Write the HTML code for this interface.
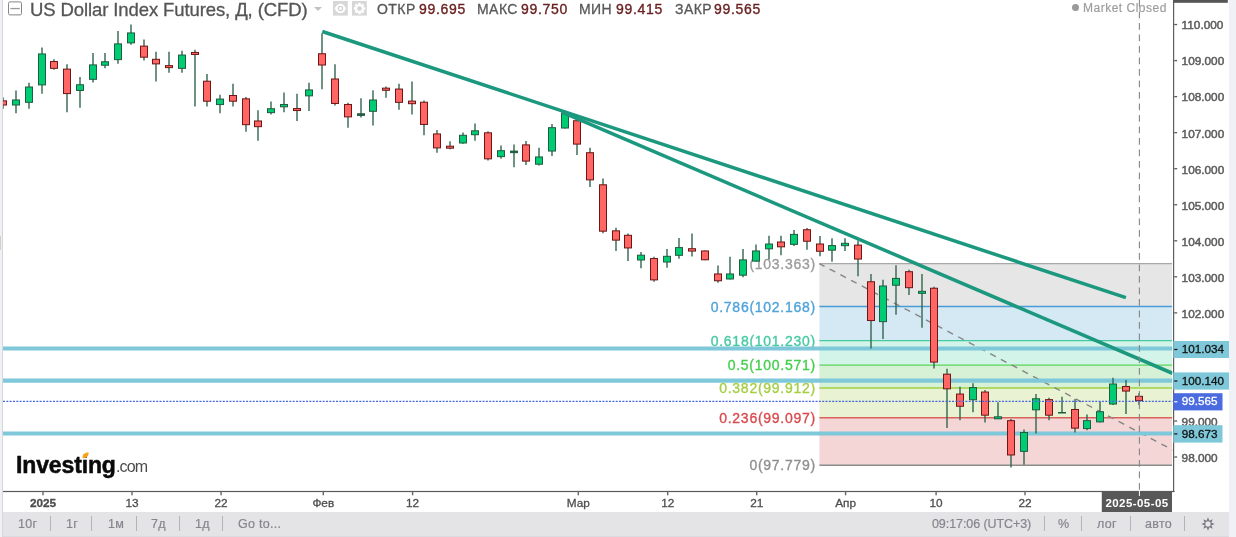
<!DOCTYPE html>
<html><head><meta charset="utf-8"><title>chart</title>
<style>
html,body{margin:0;padding:0;background:#fff;}
body{width:1236px;height:537px;position:relative;overflow:hidden;font-family:"Liberation Sans",sans-serif;}
.abs{position:absolute;white-space:nowrap;}
div.abs{will-change:transform;}
.lband{left:0;top:0;width:2.2px;height:537px;background:#f0f1f5;}
.lbord{left:2.2px;top:0;width:1px;height:537px;background:#d6d7db;}
.lhandle{left:0;top:236px;width:1.2px;height:14px;background:#cfcfd2;}
.rband{left:1229.4px;top:0;width:6.6px;height:537px;background:#eff1f6;}
.tbar{left:3px;top:512px;width:1226.4px;height:25px;background:#e4e4e6;}
.tb{top:517px;font-size:12.5px;color:#85858d;line-height:14px;letter-spacing:0.3px;-webkit-text-stroke:0.2px #85858d;}
.sep{top:516px;width:1px;height:15px;background:#b4b4b8;}
.title{left:29.8px;top:-1px;font-size:18.5px;line-height:21px;color:#555;letter-spacing:-0.1px;-webkit-text-stroke:0.3px #555;}
.hd{top:1px;font-size:14px;line-height:16px;}
.k{color:#585858;letter-spacing:0.45px;-webkit-text-stroke:0.3px #585858;} .v{color:#6b2020;letter-spacing:0.7px;-webkit-text-stroke:0.35px #6b2020;}
</style></head><body>
<svg width="1236" height="537" viewBox="0 0 1236 537" style="position:absolute;left:0;top:0;will-change:transform"><defs><clipPath id="pane"><rect x="3" y="0" width="1169.3" height="491"/></clipPath></defs><g clip-path="url(#pane)"><rect x="819.4" y="263.60" width="352.80" height="42.90" fill="#e6e6e6"/><rect x="819.4" y="306.50" width="352.80" height="34.10" fill="#d5e9f4"/><rect x="819.4" y="340.60" width="352.80" height="24.50" fill="#d3f4e8"/><rect x="819.4" y="365.10" width="352.80" height="22.90" fill="#d6f1d5"/><rect x="819.4" y="388.00" width="352.80" height="29.80" fill="#e9f3d4"/><rect x="819.4" y="417.80" width="352.80" height="47.40" fill="#f5d6d6"/><line x1="819.4" y1="263.60" x2="1172.2" y2="263.60" stroke="#a8a8a8" stroke-width="1.4"/><line x1="819.4" y1="306.50" x2="1172.2" y2="306.50" stroke="#4a9dd4" stroke-width="1.4"/><line x1="819.4" y1="340.60" x2="1172.2" y2="340.60" stroke="#45caa2" stroke-width="1.4"/><line x1="819.4" y1="365.10" x2="1172.2" y2="365.10" stroke="#5bd45b" stroke-width="1.4"/><line x1="819.4" y1="388.00" x2="1172.2" y2="388.00" stroke="#9fd040" stroke-width="1.4"/><line x1="819.4" y1="417.80" x2="1172.2" y2="417.80" stroke="#d9625a" stroke-width="1.4"/><line x1="819.4" y1="465.20" x2="1172.2" y2="465.20" stroke="#8c8c8c" stroke-width="1.4"/><line x1="819.4" y1="263.60" x2="1201.6" y2="465.20" stroke="#858585" stroke-width="1.4" stroke-dasharray="6.3 5.8" stroke-dashoffset="0.5"/><text x="815.8" y="268.60" text-anchor="end" font-family="Liberation Sans, sans-serif" font-size="14" letter-spacing="0.72" fill="#9c9c9c" stroke="#9c9c9c" stroke-width="0.35">(103.363)</text><text x="815.8" y="311.50" text-anchor="end" font-family="Liberation Sans, sans-serif" font-size="14" letter-spacing="0.72" fill="#4fa3da" stroke="#4fa3da" stroke-width="0.35">0.786(102.168)</text><text x="815.8" y="345.60" text-anchor="end" font-family="Liberation Sans, sans-serif" font-size="14" letter-spacing="0.72" fill="#45caa2" stroke="#45caa2" stroke-width="0.35">0.618(101.230)</text><text x="815.8" y="370.10" text-anchor="end" font-family="Liberation Sans, sans-serif" font-size="14" letter-spacing="0.72" fill="#44cf4e" stroke="#44cf4e" stroke-width="0.35">0.5(100.571)</text><text x="815.8" y="393.00" text-anchor="end" font-family="Liberation Sans, sans-serif" font-size="14" letter-spacing="0.72" fill="#a6cf45" stroke="#a6cf45" stroke-width="0.35">0.382(99.912)</text><text x="815.8" y="422.80" text-anchor="end" font-family="Liberation Sans, sans-serif" font-size="14" letter-spacing="0.72" fill="#d94a4e" stroke="#d94a4e" stroke-width="0.35">0.236(99.097)</text><text x="815.8" y="470.20" text-anchor="end" font-family="Liberation Sans, sans-serif" font-size="14" letter-spacing="0.72" fill="#8f8f8f" stroke="#8f8f8f" stroke-width="0.35">0(97.779)</text><line x1="3" y1="348.43" x2="1173" y2="348.43" stroke="#7fc8da" stroke-width="4.1"/><line x1="3" y1="380.65" x2="1173" y2="380.65" stroke="#7fc8da" stroke-width="4.1"/><line x1="3" y1="433.53" x2="1173" y2="433.53" stroke="#7fc8da" stroke-width="4.1"/><line x1="3.00" y1="97.23" x2="3.00" y2="108.85" stroke="#33654e" stroke-width="1.4"/><rect x="-0.50" y="100.86" width="7" height="4.14" fill="#ff6664" stroke="#6e1616" stroke-width="1"/><line x1="16.00" y1="90.53" x2="16.00" y2="113.32" stroke="#33654e" stroke-width="1.4"/><rect x="12.50" y="99.97" width="7" height="5.03" fill="#00cc74" stroke="#1f5c40" stroke-width="1"/><line x1="29.00" y1="82.71" x2="29.00" y2="108.85" stroke="#33654e" stroke-width="1.4"/><rect x="25.50" y="87.01" width="7" height="15.31" fill="#00cc74" stroke="#1f5c40" stroke-width="1"/><line x1="42.00" y1="47.40" x2="42.00" y2="93.66" stroke="#33654e" stroke-width="1.4"/><rect x="38.50" y="53.94" width="7" height="30.96" fill="#00cc74" stroke="#1f5c40" stroke-width="1"/><line x1="54.00" y1="59.25" x2="54.00" y2="69.75" stroke="#33654e" stroke-width="1.4"/><rect x="50.50" y="61.53" width="7" height="6.82" fill="#ff6664" stroke="#6e1616" stroke-width="1"/><line x1="67.00" y1="64.16" x2="67.00" y2="112.21" stroke="#33654e" stroke-width="1.4"/><rect x="63.50" y="69.13" width="7" height="24.47" fill="#ff6664" stroke="#6e1616" stroke-width="1"/><line x1="80.00" y1="77.12" x2="80.00" y2="107.74" stroke="#33654e" stroke-width="1.4"/><rect x="76.50" y="84.77" width="7" height="5.70" fill="#00cc74" stroke="#1f5c40" stroke-width="1"/><line x1="93.00" y1="52.99" x2="93.00" y2="82.49" stroke="#33654e" stroke-width="1.4"/><rect x="89.50" y="64.89" width="7" height="14.42" fill="#00cc74" stroke="#1f5c40" stroke-width="1"/><line x1="105.00" y1="52.99" x2="105.00" y2="68.18" stroke="#33654e" stroke-width="1.4"/><rect x="101.50" y="61.76" width="7" height="3.47" fill="#00cc74" stroke="#1f5c40" stroke-width="1"/><line x1="118.00" y1="31.09" x2="118.00" y2="63.72" stroke="#33654e" stroke-width="1.4"/><rect x="114.50" y="43.88" width="7" height="15.76" fill="#00cc74" stroke="#1f5c40" stroke-width="1"/><line x1="131.00" y1="24.39" x2="131.00" y2="44.72" stroke="#33654e" stroke-width="1.4"/><rect x="127.50" y="32.93" width="7" height="9.95" fill="#00cc74" stroke="#1f5c40" stroke-width="1"/><line x1="144.00" y1="39.58" x2="144.00" y2="60.59" stroke="#33654e" stroke-width="1.4"/><rect x="140.50" y="46.11" width="7" height="11.07" fill="#ff6664" stroke="#6e1616" stroke-width="1"/><line x1="156.00" y1="51.87" x2="156.00" y2="81.59" stroke="#33654e" stroke-width="1.4"/><rect x="152.50" y="59.30" width="7" height="4.59" fill="#ff6664" stroke="#6e1616" stroke-width="1"/><line x1="169.00" y1="51.87" x2="169.00" y2="72.65" stroke="#33654e" stroke-width="1.4"/><rect x="165.50" y="65.62" width="7" height="2.00" fill="#ff6664" stroke="#6e1616" stroke-width="1"/><line x1="182.00" y1="50.75" x2="182.00" y2="72.65" stroke="#33654e" stroke-width="1.4"/><rect x="178.50" y="55.05" width="7" height="13.30" fill="#00cc74" stroke="#1f5c40" stroke-width="1"/><line x1="195.00" y1="49.64" x2="195.00" y2="106.62" stroke="#33654e" stroke-width="1.4"/><rect x="191.50" y="52.44" width="7" height="2.00" fill="#ff6664" stroke="#6e1616" stroke-width="1"/><line x1="207.00" y1="73.99" x2="207.00" y2="106.62" stroke="#33654e" stroke-width="1.4"/><rect x="203.50" y="81.20" width="7" height="20.01" fill="#ff6664" stroke="#6e1616" stroke-width="1"/><line x1="220.00" y1="94.78" x2="220.00" y2="113.32" stroke="#33654e" stroke-width="1.4"/><rect x="216.50" y="99.08" width="7" height="5.48" fill="#00cc74" stroke="#1f5c40" stroke-width="1"/><line x1="233.00" y1="83.83" x2="233.00" y2="106.62" stroke="#33654e" stroke-width="1.4"/><rect x="229.50" y="95.50" width="7" height="5.70" fill="#ff6664" stroke="#6e1616" stroke-width="1"/><line x1="246.00" y1="97.01" x2="246.00" y2="131.87" stroke="#33654e" stroke-width="1.4"/><rect x="242.50" y="98.85" width="7" height="25.82" fill="#ff6664" stroke="#6e1616" stroke-width="1"/><line x1="258.00" y1="110.20" x2="258.00" y2="140.81" stroke="#33654e" stroke-width="1.4"/><rect x="254.50" y="120.97" width="7" height="5.70" fill="#ff6664" stroke="#6e1616" stroke-width="1"/><line x1="271.00" y1="101.51" x2="271.00" y2="114.47" stroke="#33654e" stroke-width="1.4"/><rect x="267.50" y="108.71" width="7" height="3.92" fill="#00cc74" stroke="#1f5c40" stroke-width="1"/><line x1="284.00" y1="92.57" x2="284.00" y2="112.23" stroke="#33654e" stroke-width="1.4"/><rect x="280.50" y="104.47" width="7" height="2.35" fill="#00cc74" stroke="#1f5c40" stroke-width="1"/><line x1="297.00" y1="93.69" x2="297.00" y2="120.95" stroke="#33654e" stroke-width="1.4"/><rect x="293.50" y="108.55" width="7" height="2.00" fill="#ff6664" stroke="#6e1616" stroke-width="1"/><line x1="309.00" y1="82.74" x2="309.00" y2="110.89" stroke="#33654e" stroke-width="1.4"/><rect x="305.50" y="89.94" width="7" height="5.93" fill="#00cc74" stroke="#1f5c40" stroke-width="1"/><line x1="322.00" y1="33.35" x2="322.00" y2="89.22" stroke="#33654e" stroke-width="1.4"/><rect x="318.50" y="53.74" width="7" height="11.29" fill="#ff6664" stroke="#6e1616" stroke-width="1"/><line x1="335.00" y1="64.19" x2="335.00" y2="105.53" stroke="#33654e" stroke-width="1.4"/><rect x="331.50" y="78.99" width="7" height="24.47" fill="#ff6664" stroke="#6e1616" stroke-width="1"/><line x1="348.00" y1="102.63" x2="348.00" y2="127.65" stroke="#33654e" stroke-width="1.4"/><rect x="344.50" y="104.47" width="7" height="12.41" fill="#ff6664" stroke="#6e1616" stroke-width="1"/><line x1="361.00" y1="98.16" x2="361.00" y2="117.60" stroke="#33654e" stroke-width="1.4"/><rect x="357.50" y="113.80" width="7" height="1.56" fill="#1f5c40" stroke="#1f5c40" stroke-width="1"/><line x1="373.00" y1="90.34" x2="373.00" y2="125.42" stroke="#33654e" stroke-width="1.4"/><rect x="369.50" y="100.00" width="7" height="11.29" fill="#00cc74" stroke="#1f5c40" stroke-width="1"/><line x1="386.00" y1="86.54" x2="386.00" y2="97.71" stroke="#33654e" stroke-width="1.4"/><rect x="382.50" y="88.15" width="7" height="2.13" fill="#ff6664" stroke="#6e1616" stroke-width="1"/><line x1="399.00" y1="83.85" x2="399.00" y2="109.78" stroke="#33654e" stroke-width="1.4"/><rect x="395.50" y="89.05" width="7" height="13.30" fill="#ff6664" stroke="#6e1616" stroke-width="1"/><line x1="412.00" y1="81.62" x2="412.00" y2="114.47" stroke="#33654e" stroke-width="1.4"/><rect x="408.50" y="101.11" width="7" height="2.58" fill="#ff6664" stroke="#6e1616" stroke-width="1"/><line x1="424.00" y1="100.61" x2="424.00" y2="135.25" stroke="#33654e" stroke-width="1.4"/><rect x="420.50" y="102.23" width="7" height="22.24" fill="#ff6664" stroke="#6e1616" stroke-width="1"/><line x1="437.00" y1="130.08" x2="437.00" y2="152.65" stroke="#33654e" stroke-width="1.4"/><rect x="433.50" y="133.94" width="7" height="13.97" fill="#ff6664" stroke="#6e1616" stroke-width="1"/><line x1="450.00" y1="141.26" x2="450.00" y2="149.30" stroke="#33654e" stroke-width="1.4"/><rect x="446.50" y="146.18" width="7" height="2.00" fill="#ff6664" stroke="#6e1616" stroke-width="1"/><line x1="463.00" y1="132.54" x2="463.00" y2="143.72" stroke="#33654e" stroke-width="1.4"/><rect x="459.50" y="135.28" width="7" height="7.72" fill="#00cc74" stroke="#1f5c40" stroke-width="1"/><line x1="475.00" y1="123.38" x2="475.00" y2="140.81" stroke="#33654e" stroke-width="1.4"/><rect x="471.50" y="130.81" width="7" height="3.92" fill="#00cc74" stroke="#1f5c40" stroke-width="1"/><line x1="488.00" y1="131.20" x2="488.00" y2="160.47" stroke="#33654e" stroke-width="1.4"/><rect x="484.50" y="132.82" width="7" height="26.04" fill="#ff6664" stroke="#6e1616" stroke-width="1"/><line x1="501.00" y1="145.50" x2="501.00" y2="158.69" stroke="#33654e" stroke-width="1.4"/><rect x="497.50" y="150.70" width="7" height="5.93" fill="#00cc74" stroke="#1f5c40" stroke-width="1"/><line x1="514.00" y1="144.39" x2="514.00" y2="167.18" stroke="#33654e" stroke-width="1.4"/><rect x="510.50" y="151.09" width="7" height="1.56" fill="#1f5c40" stroke="#1f5c40" stroke-width="1"/><line x1="526.00" y1="141.03" x2="526.00" y2="164.94" stroke="#33654e" stroke-width="1.4"/><rect x="522.50" y="144.89" width="7" height="16.21" fill="#ff6664" stroke="#6e1616" stroke-width="1"/><line x1="539.00" y1="147.74" x2="539.00" y2="165.39" stroke="#33654e" stroke-width="1.4"/><rect x="535.50" y="156.95" width="7" height="7.27" fill="#00cc74" stroke="#1f5c40" stroke-width="1"/><line x1="552.00" y1="124.05" x2="552.00" y2="156.01" stroke="#33654e" stroke-width="1.4"/><rect x="548.50" y="127.68" width="7" height="23.36" fill="#00cc74" stroke="#1f5c40" stroke-width="1"/><line x1="565.00" y1="110.64" x2="565.00" y2="128.52" stroke="#33654e" stroke-width="1.4"/><rect x="561.50" y="112.93" width="7" height="15.09" fill="#00cc74" stroke="#1f5c40" stroke-width="1"/><line x1="577.00" y1="120.03" x2="577.00" y2="154.89" stroke="#33654e" stroke-width="1.4"/><rect x="573.50" y="120.75" width="7" height="23.36" fill="#ff6664" stroke="#6e1616" stroke-width="1"/><line x1="590.00" y1="147.74" x2="590.00" y2="187.07" stroke="#33654e" stroke-width="1.4"/><rect x="586.50" y="152.71" width="7" height="27.16" fill="#ff6664" stroke="#6e1616" stroke-width="1"/><line x1="603.00" y1="178.49" x2="603.00" y2="233.24" stroke="#33654e" stroke-width="1.4"/><rect x="599.50" y="184.80" width="7" height="46.37" fill="#ff6664" stroke="#6e1616" stroke-width="1"/><line x1="616.00" y1="227.65" x2="616.00" y2="250.89" stroke="#33654e" stroke-width="1.4"/><rect x="612.50" y="230.84" width="7" height="9.28" fill="#ff6664" stroke="#6e1616" stroke-width="1"/><line x1="628.00" y1="233.46" x2="628.00" y2="260.95" stroke="#33654e" stroke-width="1.4"/><rect x="624.50" y="235.30" width="7" height="12.63" fill="#ff6664" stroke="#6e1616" stroke-width="1"/><line x1="641.00" y1="252.01" x2="641.00" y2="268.32" stroke="#33654e" stroke-width="1.4"/><rect x="637.50" y="255.19" width="7" height="4.81" fill="#00cc74" stroke="#1f5c40" stroke-width="1"/><line x1="654.00" y1="256.70" x2="654.00" y2="281.73" stroke="#33654e" stroke-width="1.4"/><rect x="650.50" y="258.54" width="7" height="21.35" fill="#ff6664" stroke="#6e1616" stroke-width="1"/><line x1="667.00" y1="248.88" x2="667.00" y2="267.65" stroke="#33654e" stroke-width="1.4"/><rect x="663.50" y="256.31" width="7" height="5.70" fill="#00cc74" stroke="#1f5c40" stroke-width="1"/><line x1="679.00" y1="237.93" x2="679.00" y2="258.72" stroke="#33654e" stroke-width="1.4"/><rect x="675.50" y="247.59" width="7" height="7.72" fill="#00cc74" stroke="#1f5c40" stroke-width="1"/><line x1="692.00" y1="233.46" x2="692.00" y2="256.48" stroke="#33654e" stroke-width="1.4"/><rect x="688.50" y="248.71" width="7" height="2.35" fill="#ff6664" stroke="#6e1616" stroke-width="1"/><line x1="705.00" y1="250.45" x2="705.00" y2="260.28" stroke="#33654e" stroke-width="1.4"/><rect x="701.50" y="250.95" width="7" height="8.83" fill="#ff6664" stroke="#6e1616" stroke-width="1"/><line x1="718.00" y1="265.42" x2="718.00" y2="282.85" stroke="#33654e" stroke-width="1.4"/><rect x="714.50" y="273.96" width="7" height="6.82" fill="#ff6664" stroke="#6e1616" stroke-width="1"/><line x1="730.00" y1="256.70" x2="730.00" y2="279.50" stroke="#33654e" stroke-width="1.4"/><rect x="726.50" y="273.96" width="7" height="5.03" fill="#00cc74" stroke="#1f5c40" stroke-width="1"/><line x1="743.00" y1="248.88" x2="743.00" y2="277.26" stroke="#33654e" stroke-width="1.4"/><rect x="739.50" y="259.89" width="7" height="15.31" fill="#00cc74" stroke="#1f5c40" stroke-width="1"/><line x1="756.00" y1="244.41" x2="756.00" y2="261.62" stroke="#33654e" stroke-width="1.4"/><rect x="752.50" y="250.95" width="7" height="10.17" fill="#00cc74" stroke="#1f5c40" stroke-width="1"/><line x1="769.00" y1="235.70" x2="769.00" y2="259.39" stroke="#33654e" stroke-width="1.4"/><rect x="765.50" y="244.02" width="7" height="4.81" fill="#00cc74" stroke="#1f5c40" stroke-width="1"/><line x1="781.00" y1="235.70" x2="781.00" y2="255.36" stroke="#33654e" stroke-width="1.4"/><rect x="777.50" y="242.01" width="7" height="4.81" fill="#ff6664" stroke="#6e1616" stroke-width="1"/><line x1="794.00" y1="230.11" x2="794.00" y2="245.98" stroke="#33654e" stroke-width="1.4"/><rect x="790.50" y="234.41" width="7" height="9.95" fill="#00cc74" stroke="#1f5c40" stroke-width="1"/><line x1="807.00" y1="228.10" x2="807.00" y2="249.78" stroke="#33654e" stroke-width="1.4"/><rect x="803.50" y="229.72" width="7" height="11.51" fill="#ff6664" stroke="#6e1616" stroke-width="1"/><line x1="820.00" y1="236.12" x2="820.00" y2="256.23" stroke="#33654e" stroke-width="1.4"/><rect x="816.50" y="243.99" width="7" height="7.27" fill="#ff6664" stroke="#6e1616" stroke-width="1"/><line x1="832.00" y1="238.35" x2="832.00" y2="261.82" stroke="#33654e" stroke-width="1.4"/><rect x="828.50" y="245.56" width="7" height="4.59" fill="#00cc74" stroke="#1f5c40" stroke-width="1"/><line x1="845.00" y1="238.35" x2="845.00" y2="251.09" stroke="#33654e" stroke-width="1.4"/><rect x="841.50" y="243.32" width="7" height="2.35" fill="#00cc74" stroke="#1f5c40" stroke-width="1"/><line x1="858.00" y1="240.59" x2="858.00" y2="276.34" stroke="#33654e" stroke-width="1.4"/><rect x="854.50" y="245.11" width="7" height="13.97" fill="#ff6664" stroke="#6e1616" stroke-width="1"/><line x1="871.00" y1="274.11" x2="871.00" y2="348.52" stroke="#33654e" stroke-width="1.4"/><rect x="867.50" y="281.76" width="7" height="38.78" fill="#ff6664" stroke="#6e1616" stroke-width="1"/><line x1="883.00" y1="279.69" x2="883.00" y2="338.91" stroke="#33654e" stroke-width="1.4"/><rect x="879.50" y="286.00" width="7" height="35.65" fill="#00cc74" stroke="#1f5c40" stroke-width="1"/><line x1="896.00" y1="265.17" x2="896.00" y2="314.78" stroke="#33654e" stroke-width="1.4"/><rect x="892.50" y="278.41" width="7" height="6.82" fill="#00cc74" stroke="#1f5c40" stroke-width="1"/><line x1="909.00" y1="269.64" x2="909.00" y2="294.89" stroke="#33654e" stroke-width="1.4"/><rect x="905.50" y="271.70" width="7" height="15.98" fill="#ff6664" stroke="#6e1616" stroke-width="1"/><line x1="922.00" y1="274.11" x2="922.00" y2="327.74" stroke="#33654e" stroke-width="1.4"/><rect x="918.50" y="291.32" width="7" height="2.00" fill="#00cc74" stroke="#1f5c40" stroke-width="1"/><line x1="934.00" y1="286.84" x2="934.00" y2="368.41" stroke="#33654e" stroke-width="1.4"/><rect x="930.50" y="288.24" width="7" height="73.86" fill="#ff6664" stroke="#6e1616" stroke-width="1"/><line x1="947.00" y1="368.76" x2="947.00" y2="427.98" stroke="#33654e" stroke-width="1.4"/><rect x="943.50" y="374.18" width="7" height="14.64" fill="#ff6664" stroke="#6e1616" stroke-width="1"/><line x1="960.00" y1="386.64" x2="960.00" y2="420.16" stroke="#33654e" stroke-width="1.4"/><rect x="956.50" y="394.06" width="7" height="12.18" fill="#ff6664" stroke="#6e1616" stroke-width="1"/><line x1="973.00" y1="383.28" x2="973.00" y2="412.34" stroke="#33654e" stroke-width="1.4"/><rect x="969.50" y="387.58" width="7" height="12.18" fill="#00cc74" stroke="#1f5c40" stroke-width="1"/><line x1="985.00" y1="389.99" x2="985.00" y2="422.39" stroke="#33654e" stroke-width="1.4"/><rect x="981.50" y="392.05" width="7" height="23.13" fill="#ff6664" stroke="#6e1616" stroke-width="1"/><line x1="998.00" y1="402.28" x2="998.00" y2="419.04" stroke="#33654e" stroke-width="1.4"/><rect x="994.50" y="416.81" width="7" height="2.00" fill="#00cc74" stroke="#1f5c40" stroke-width="1"/><line x1="1011.00" y1="419.04" x2="1011.00" y2="467.53" stroke="#33654e" stroke-width="1.4"/><rect x="1007.50" y="420.66" width="7" height="34.31" fill="#ff6664" stroke="#6e1616" stroke-width="1"/><line x1="1024.00" y1="429.54" x2="1024.00" y2="464.85" stroke="#33654e" stroke-width="1.4"/><rect x="1020.50" y="432.50" width="7" height="18.89" fill="#00cc74" stroke="#1f5c40" stroke-width="1"/><line x1="1036.00" y1="394.01" x2="1036.00" y2="433.56" stroke="#33654e" stroke-width="1.4"/><rect x="1032.50" y="398.76" width="7" height="11.07" fill="#00cc74" stroke="#1f5c40" stroke-width="1"/><line x1="1049.00" y1="397.81" x2="1049.00" y2="420.16" stroke="#33654e" stroke-width="1.4"/><rect x="1045.50" y="399.65" width="7" height="15.54" fill="#ff6664" stroke="#6e1616" stroke-width="1"/><line x1="1062.00" y1="396.69" x2="1062.00" y2="412.78" stroke="#33654e" stroke-width="1.4"/><line x1="1058.00" y1="412.78" x2="1066.00" y2="412.78" stroke="#1f5c40" stroke-width="1.4"/><line x1="1075.00" y1="398.93" x2="1075.00" y2="432.45" stroke="#33654e" stroke-width="1.4"/><rect x="1071.50" y="409.48" width="7" height="18.66" fill="#ff6664" stroke="#6e1616" stroke-width="1"/><line x1="1087.00" y1="414.57" x2="1087.00" y2="430.21" stroke="#33654e" stroke-width="1.4"/><rect x="1083.50" y="420.66" width="7" height="7.94" fill="#00cc74" stroke="#1f5c40" stroke-width="1"/><line x1="1100.00" y1="401.61" x2="1100.00" y2="422.39" stroke="#33654e" stroke-width="1.4"/><rect x="1096.50" y="411.72" width="7" height="10.17" fill="#00cc74" stroke="#1f5c40" stroke-width="1"/><line x1="1113.00" y1="377.70" x2="1113.00" y2="404.96" stroke="#33654e" stroke-width="1.4"/><rect x="1109.50" y="384.01" width="7" height="20.01" fill="#00cc74" stroke="#1f5c40" stroke-width="1"/><line x1="1126.00" y1="379.93" x2="1126.00" y2="413.90" stroke="#33654e" stroke-width="1.4"/><rect x="1122.50" y="386.47" width="7" height="4.59" fill="#ff6664" stroke="#6e1616" stroke-width="1"/><line x1="1139.00" y1="393.34" x2="1139.00" y2="404.96" stroke="#33654e" stroke-width="1.4"/><rect x="1135.50" y="396.30" width="7" height="4.36" fill="#ff6664" stroke="#6e1616" stroke-width="1"/><line x1="3" y1="401.4" x2="1173" y2="401.4" stroke="#4466e0" stroke-width="1.3" stroke-dasharray="2 1.33"/><line x1="322.3" y1="31.5" x2="1125.9" y2="297.7" stroke="#1b987e" stroke-width="3.5"/><line x1="563" y1="112.7" x2="1172.5" y2="373.3" stroke="#1b987e" stroke-width="3.5"/><line x1="1139.4" y1="0" x2="1139.4" y2="491" stroke="#858585" stroke-width="1.1" stroke-dasharray="6.7 4.8"/></g><rect x="1173" y="0" width="1.2" height="492" fill="#5e5e5e"/><rect x="3" y="490.9" width="1171.6" height="1.2" fill="#5a5a5a"/><rect x="1173" y="0" width="54.8" height="2.8" fill="#555"/><rect x="1174.2" y="456.38" width="3.0" height="1.3" fill="#5e5e5e"/><text x="1181.6" y="461.88" font-family="Liberation Sans, sans-serif" font-size="11.8" fill="#5c5c5c" stroke="#5c5c5c" stroke-width="0.5">98.000</text><rect x="1174.2" y="420.34" width="3.0" height="1.3" fill="#5e5e5e"/><text x="1181.6" y="425.84" font-family="Liberation Sans, sans-serif" font-size="11.8" fill="#5c5c5c" stroke="#5c5c5c" stroke-width="0.5">99.000</text><rect x="1174.2" y="312.22" width="3.0" height="1.3" fill="#5e5e5e"/><text x="1181.6" y="317.72" font-family="Liberation Sans, sans-serif" font-size="11.8" fill="#5c5c5c" stroke="#5c5c5c" stroke-width="0.5">102.000</text><rect x="1174.2" y="276.18" width="3.0" height="1.3" fill="#5e5e5e"/><text x="1181.6" y="281.68" font-family="Liberation Sans, sans-serif" font-size="11.8" fill="#5c5c5c" stroke="#5c5c5c" stroke-width="0.5">103.000</text><rect x="1174.2" y="240.14" width="3.0" height="1.3" fill="#5e5e5e"/><text x="1181.6" y="245.64" font-family="Liberation Sans, sans-serif" font-size="11.8" fill="#5c5c5c" stroke="#5c5c5c" stroke-width="0.5">104.000</text><rect x="1174.2" y="204.10" width="3.0" height="1.3" fill="#5e5e5e"/><text x="1181.6" y="209.60" font-family="Liberation Sans, sans-serif" font-size="11.8" fill="#5c5c5c" stroke="#5c5c5c" stroke-width="0.5">105.000</text><rect x="1174.2" y="168.06" width="3.0" height="1.3" fill="#5e5e5e"/><text x="1181.6" y="173.56" font-family="Liberation Sans, sans-serif" font-size="11.8" fill="#5c5c5c" stroke="#5c5c5c" stroke-width="0.5">106.000</text><rect x="1174.2" y="132.02" width="3.0" height="1.3" fill="#5e5e5e"/><text x="1181.6" y="137.52" font-family="Liberation Sans, sans-serif" font-size="11.8" fill="#5c5c5c" stroke="#5c5c5c" stroke-width="0.5">107.000</text><rect x="1174.2" y="95.98" width="3.0" height="1.3" fill="#5e5e5e"/><text x="1181.6" y="101.48" font-family="Liberation Sans, sans-serif" font-size="11.8" fill="#5c5c5c" stroke="#5c5c5c" stroke-width="0.5">108.000</text><rect x="1174.2" y="59.94" width="3.0" height="1.3" fill="#5e5e5e"/><text x="1181.6" y="65.44" font-family="Liberation Sans, sans-serif" font-size="11.8" fill="#5c5c5c" stroke="#5c5c5c" stroke-width="0.5">109.000</text><rect x="1174.2" y="23.90" width="3.0" height="1.3" fill="#5e5e5e"/><text x="1181.6" y="29.40" font-family="Liberation Sans, sans-serif" font-size="11.8" fill="#5c5c5c" stroke="#5c5c5c" stroke-width="0.5">110.000</text><rect x="1173.3" y="341" width="55.7" height="17" fill="#7ec8d9"/><rect x="1174.2" y="348.90" width="3.2" height="1.2" fill="#111"/><text x="1181.8" y="353.10" font-family="Liberation Sans, sans-serif" font-size="11.7" fill="#111" stroke="#111" stroke-width="0.3">101.034</text><rect x="1173.3" y="372.4" width="55.7" height="17.200000000000045" fill="#7ec8d9"/><rect x="1174.2" y="380.40" width="3.2" height="1.2" fill="#111"/><text x="1181.8" y="384.60" font-family="Liberation Sans, sans-serif" font-size="11.7" fill="#111" stroke="#111" stroke-width="0.3">100.140</text><rect x="1173.3" y="425.2" width="49.2" height="17.400000000000034" fill="#7ec8d9"/><rect x="1174.2" y="433.30" width="3.2" height="1.2" fill="#111"/><text x="1181.8" y="437.50" font-family="Liberation Sans, sans-serif" font-size="11.7" fill="#111" stroke="#111" stroke-width="0.3">98.673</text><rect x="1173.3" y="393.2" width="49.2" height="17.19999999999999" fill="#4a6be0"/><rect x="1174.2" y="401.20" width="3.2" height="1.2" fill="#fff"/><text x="1181.8" y="405.40" font-family="Liberation Sans, sans-serif" font-size="11.7" fill="#fff" stroke="#fff" stroke-width="0.3">99.565</text><rect x="42.3" y="491.5" width="1.4" height="3.8" fill="#666"/><text x="43.0" y="507.3" text-anchor="middle" font-family="Liberation Sans, sans-serif" font-size="11.8" font-weight="bold" fill="#4d4d4d" stroke="#4d4d4d" stroke-width="0.3">2025</text><rect x="131.3" y="491.5" width="1.4" height="3.8" fill="#666"/><text x="132.0" y="507.3" text-anchor="middle" font-family="Liberation Sans, sans-serif" font-size="11.8" font-weight="normal" fill="#4d4d4d" stroke="#4d4d4d" stroke-width="0.3">13</text><rect x="220.4" y="491.5" width="1.4" height="3.8" fill="#666"/><text x="221.1" y="507.3" text-anchor="middle" font-family="Liberation Sans, sans-serif" font-size="11.8" font-weight="normal" fill="#4d4d4d" stroke="#4d4d4d" stroke-width="0.3">22</text><rect x="322.6" y="491.5" width="1.4" height="3.8" fill="#666"/><text x="323.3" y="507.3" text-anchor="middle" font-family="Liberation Sans, sans-serif" font-size="11.8" font-weight="normal" fill="#4d4d4d" stroke="#4d4d4d" stroke-width="0.3">Фев</text><rect x="411.9" y="491.5" width="1.4" height="3.8" fill="#666"/><text x="412.6" y="507.3" text-anchor="middle" font-family="Liberation Sans, sans-serif" font-size="11.8" font-weight="normal" fill="#4d4d4d" stroke="#4d4d4d" stroke-width="0.3">12</text><rect x="577.6" y="491.5" width="1.4" height="3.8" fill="#666"/><text x="578.3" y="507.3" text-anchor="middle" font-family="Liberation Sans, sans-serif" font-size="11.8" font-weight="normal" fill="#4d4d4d" stroke="#4d4d4d" stroke-width="0.3">Мар</text><rect x="667.0" y="491.5" width="1.4" height="3.8" fill="#666"/><text x="667.7" y="507.3" text-anchor="middle" font-family="Liberation Sans, sans-serif" font-size="11.8" font-weight="normal" fill="#4d4d4d" stroke="#4d4d4d" stroke-width="0.3">12</text><rect x="756.0" y="491.5" width="1.4" height="3.8" fill="#666"/><text x="756.7" y="507.3" text-anchor="middle" font-family="Liberation Sans, sans-serif" font-size="11.8" font-weight="normal" fill="#4d4d4d" stroke="#4d4d4d" stroke-width="0.3">21</text><rect x="844.9" y="491.5" width="1.4" height="3.8" fill="#666"/><text x="845.6" y="507.3" text-anchor="middle" font-family="Liberation Sans, sans-serif" font-size="11.8" font-weight="normal" fill="#4d4d4d" stroke="#4d4d4d" stroke-width="0.3">Апр</text><rect x="935.4" y="491.5" width="1.4" height="3.8" fill="#666"/><text x="936.1" y="507.3" text-anchor="middle" font-family="Liberation Sans, sans-serif" font-size="11.8" font-weight="normal" fill="#4d4d4d" stroke="#4d4d4d" stroke-width="0.3">10</text><rect x="1024.3" y="491.5" width="1.4" height="3.8" fill="#666"/><text x="1025.0" y="507.3" text-anchor="middle" font-family="Liberation Sans, sans-serif" font-size="11.8" font-weight="normal" fill="#4d4d4d" stroke="#4d4d4d" stroke-width="0.3">22</text><rect x="1101.8" y="491.8" width="70.2" height="20.2" fill="#585858"/><line x1="1139.4" y1="491" x2="1139.4" y2="496" stroke="#fff" stroke-width="1"/><text x="1137" y="507" text-anchor="middle" font-family="Liberation Sans, sans-serif" font-size="11.5" letter-spacing="0.42" font-weight="bold" fill="#fff">2025-05-05</text></svg>
<div class="abs lband"></div><div class="abs lbord"></div><div class="abs lhandle"></div>
<div class="abs rband"></div>
<div class="abs tbar"></div>
<!-- header -->
<svg class="abs" style="left:8px;top:0.5px" width="15" height="15" viewBox="0 0 15 15"><rect x="0.5" y="0.9" width="13" height="13" rx="1.5" fill="#fff" stroke="#858585" stroke-width="1"/><rect x="2.4" y="6.9" width="9.4" height="1.3" fill="#999"/></svg>
<div class="abs title" id="title">US Dollar Index Futures, Д, (CFD)</div>
<svg class="abs" style="left:314px;top:7px" width="8" height="4" viewBox="0 0 8 4"><path d="M0 0H8L4 4Z" fill="#c2c2c2"/></svg>
<svg class="abs" style="left:333.2px;top:1.2px" width="15" height="15" viewBox="0 0 15 15"><rect width="14.8" height="14.6" fill="#d7d7d7"/><path d="M1.7 7.5C3.5 3.6 5.5 2.7 7.4 2.7C9.3 2.7 11.3 3.6 13.1 7.5C11.3 11.4 9.3 12.3 7.4 12.3C5.5 12.3 3.5 11.4 1.7 7.5Z" fill="#fff"/><circle cx="7.4" cy="7.5" r="2.1" fill="#fff" stroke="#d2d2d2" stroke-width="1.3"/></svg>
<svg class="abs" style="left:352.1px;top:1.2px" width="15" height="15" viewBox="0 0 15 15"><rect width="14.8" height="14.6" fill="#d7d7d7"/><g transform="translate(7.5 7.5)" fill="#fff"><circle r="4.2"/><rect x="-1.3" y="-5.7" width="2.6" height="11.4" transform="rotate(0)"/><rect x="-1.3" y="-5.7" width="2.6" height="11.4" transform="rotate(45)"/><rect x="-1.3" y="-5.7" width="2.6" height="11.4" transform="rotate(90)"/><rect x="-1.3" y="-5.7" width="2.6" height="11.4" transform="rotate(135)"/></g><circle cx="7.5" cy="7.5" r="2.3" fill="#d3d3d3"/></svg>
<div class="abs hd k" id="k1" style="left:376.5px">ОТКР</div><div class="abs hd v" id="v1" style="left:418.7px">99.695</div>
<div class="abs hd k" id="k2" style="left:477px">МАКС</div><div class="abs hd v" id="v2" style="left:520.8px">99.750</div>
<div class="abs hd k" id="k3" style="left:579px">МИН</div><div class="abs hd v" id="v3" style="left:615.6px">99.415</div>
<div class="abs hd k" id="k4" style="left:674.5px">ЗАКР</div><div class="abs hd v" id="v4" style="left:714px">99.565</div>
<div class="abs" style="left:1072px;top:4.1px;width:7px;height:7px;border-radius:50%;background:#9a9a9a"></div>
<div class="abs" id="mc" style="left:1083.2px;top:0.5px;font-size:12px;line-height:14px;color:#9d9d9d;letter-spacing:0.5px;-webkit-text-stroke:0.2px #9d9d9d">Market Closed</div>
<!-- logo -->
<div class="abs" id="logo" style="left:16.2px;top:451.6px;font-size:23px;line-height:26px;font-weight:bold;color:#0a0a0a;letter-spacing:-0.13px;-webkit-text-stroke:0.5px #0a0a0a">Investing</div>
<div class="abs" id="com" style="left:116.2px;top:457.2px;font-size:16px;line-height:20px;color:#4a4a4a;letter-spacing:-0.9px">.com</div>
<svg class="abs" style="left:82px;top:452px" width="8" height="7" viewBox="0 0 8 7"><path d="M0.5 5.6C0.3 2.6 3 0.5 6.6 0.6C7 3.4 4.6 6.4 1.2 6.3Z" fill="#f7a21b"/></svg>
<!-- toolbar -->
<div class="abs tb" id="t1" style="left:18.2px">10г</div><div class="abs sep" style="left:50px"></div>
<div class="abs tb" id="t2" style="left:66px">1г</div><div class="abs sep" style="left:91px"></div>
<div class="abs tb" id="t3" style="left:107.5px">1м</div><div class="abs sep" style="left:136.3px"></div>
<div class="abs tb" id="t4" style="left:151.2px">7д</div><div class="abs sep" style="left:179.2px"></div>
<div class="abs tb" id="t5" style="left:195.4px">1д</div><div class="abs sep" style="left:222px"></div>
<div class="abs tb" id="t6" style="left:237.9px">Go to...</div>
<div class="abs tb" id="t7" style="left:931.7px;letter-spacing:-0.08px">09:17:06 (UTC+3)</div><div class="abs sep" style="left:1044px"></div>
<div class="abs tb" id="t8" style="left:1058px">%</div><div class="abs sep" style="left:1081px"></div>
<div class="abs tb" id="t9" style="left:1096.8px">лог</div><div class="abs sep" style="left:1130px"></div>
<div class="abs tb" id="t10" style="left:1144.9px">авто</div><div class="abs sep" style="left:1184px"></div>
<svg class="abs" style="left:1199.5px;top:515.5px" width="16" height="16" viewBox="0 0 16 16"><g transform="translate(8 8)"><polygon points="-1.27,-3.48 0.00,-6.70 1.27,-3.48 1.56,-3.35 4.74,-4.74 3.35,-1.56 3.48,-1.27 6.70,0.00 3.48,1.27 3.35,1.56 4.74,4.74 1.56,3.35 1.27,3.48 0.00,6.70 -1.27,3.48 -1.56,3.35 -4.74,4.74 -3.35,1.56 -3.48,1.27 -6.70,0.00 -3.48,-1.27 -3.35,-1.56 -4.74,-4.74 -1.56,-3.35" fill="#77777b"/><circle r="2.7" fill="#e6e6e8"/></g></svg>
<div class="abs" style="left:3px;top:536.2px;width:1226.4px;height:0.8px;background:#dadbe0"></div>
</body></html>
